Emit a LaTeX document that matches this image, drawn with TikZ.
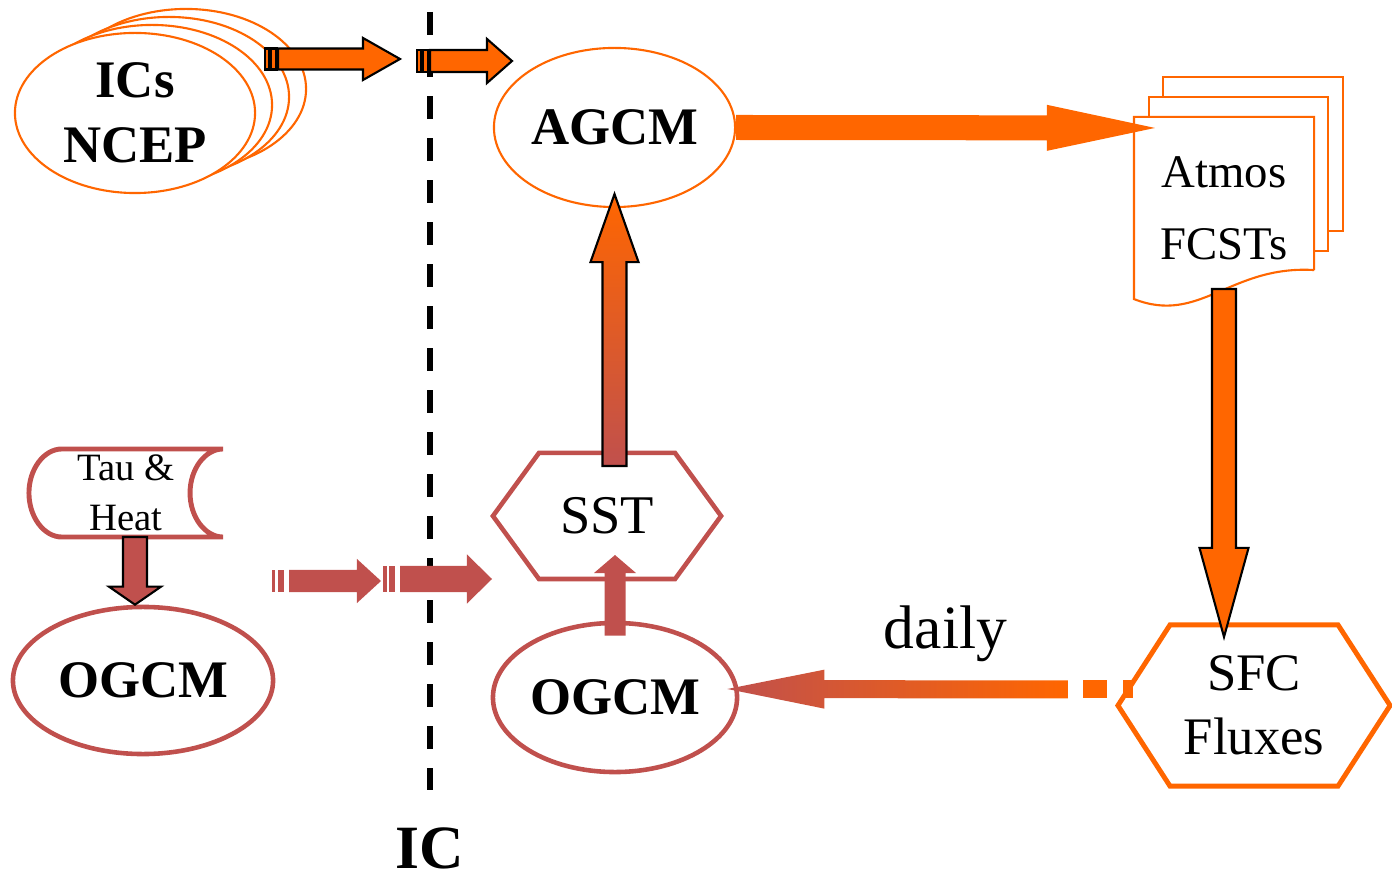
\documentclass[tikz,border=0pt]{standalone}
\usepackage{fontspec}
\setmainfont{Liberation Serif}
\usetikzlibrary{calc}
\usetikzlibrary{shapes.geometric}

\definecolor{fcorange}{HTML}{FF6600}
\definecolor{ocred}{HTML}{C0504D}

% fat arrow drawn as a polygon between two points
\tikzset{
  barw/.store in=\barw, tipw/.store in=\tipw, tipl/.store in=\tipl,
  barw=1.2mm, tipw=2.4mm, tipl=7mm,
  blockarrow/.style={to path={
    ($(\tikztostart)!\barw!90:(\tikztotarget)$)
    -- ($(\tikztotarget)!\tipl!(\tikztostart)!\barw!90:(\tikztotarget)$)
    -- ($(\tikztotarget)!\tipl!(\tikztostart)!\tipw!90:(\tikztotarget)$)
    -- (\tikztotarget)
    -- ($(\tikztotarget)!\tipl!(\tikztostart)!\tipw!-90:(\tikztotarget)$)
    -- ($(\tikztotarget)!\tipl!(\tikztostart)!\barw!-90:(\tikztotarget)$)
    -- ($(\tikztostart)!\barw!-90:(\tikztotarget)$) -- cycle
  }},
}

\newcommand{\hexframe}[3]{%
  \draw[#1] (#2.west) -- ([xshift=#3]#2.north west) -- ([xshift=-#3]#2.north east)
    -- (#2.east) -- ([xshift=-#3]#2.south east) -- ([xshift=#3]#2.south west) -- cycle;}

\begin{document}
\begin{tikzpicture}[x=0.01cm, y=-0.01cm,
  icsell/.style = {ellipse, draw=fcorange, line width=0.6pt, fill=white, inner sep=0pt,
                   minimum width=2.4cm, minimum height=1.6cm},
  agcmell/.style= {ellipse, draw=fcorange, line width=0.6pt, fill=white, inner sep=0pt},
  ogcmell/.style= {ellipse, draw=ocred, line width=1.3pt, fill=white, inner sep=0pt},
  bigbf/.style  = {font=\fontsize{15}{18.5}\selectfont\bfseries, align=center},
  frame/.style  = {rectangle, inner sep=0pt, outer sep=0pt},
  docline/.style= {draw=fcorange, line width=0.6pt, fill=white},
  redline/.style= {draw=ocred, line width=1.4pt},
  outl/.style   = {draw=black, line width=0.6pt}
]
  \useasboundingbox (0,0) rectangle (1392,877);

  % initial conditions
  \foreach \k in {3,2,1}
    \node[icsell] (ics\k) at ({135+17*\k},{113-8*\k}) {};
  \node[icsell, bigbf] (ics) at (135,113) {ICs\\NCEP};

  \coordinate (ictop) at (430,12);
  \coordinate (icbot) at (430,790);
  \draw[line width=1.6pt, dash pattern=on 0.23cm off 0.19cm] (ictop) -- (icbot);
  \node[font=\fontsize{17.5}{20}\selectfont\bfseries] (iclbl) at (430,848) {IC};

  % atmosphere
  \node[agcmell, bigbf, minimum width=2.41cm, minimum height=1.59cm] (agcm) at (614.5,127.5) {AGCM};

  \node[frame, minimum width=1.8cm, minimum height=1.53cm] (atmos) at (1224,193.5) {};
  \draw[docline] ([xshift=2.9mm,yshift=4mm]atmos.north west) rectangle ([xshift=2.9mm,yshift=3.9mm]atmos.south east);
  \draw[docline] ([xshift=1.5mm,yshift=2mm]atmos.north west) rectangle ([xshift=1.4mm,yshift=1.9mm]atmos.south east);
  \draw[docline] (atmos.south east) -- (atmos.north east) -- (atmos.north west)
    -- ([yshift=-2.9mm]atmos.south west)
    .. controls ([xshift=6.6mm,yshift=-5.5mm]atmos.south west) and ([xshift=-8.4mm,yshift=0.5mm]atmos.south east)
    .. (atmos.south east);
  \node[font=\fontsize{13.3}{20.5}\selectfont, align=center] (atmostxt) at (1224,208.5) {Atmos\\FCSTs};

  \node[frame, font=\fontsize{15}{18.2}\selectfont, align=center,
        minimum width=2.72cm, minimum height=1.61cm] (sfc) at (1254,705.5) {SFC\\Fluxes};
  \hexframe{draw=fcorange, line width=1.4pt}{sfc}{5.2mm}

  % ocean
  \node[frame, font=\fontsize{15.5}{18}\selectfont, minimum width=2.28cm, minimum height=1.26cm] (sst) at (607,516) {SST};
  \hexframe{redline, line width=1.3pt}{sst}{4.6mm}

  \node[ogcmell, bigbf, minimum width=2.44cm, minimum height=1.49cm] (ogcmM) at (615,697.5) {OGCM};
  \node[ogcmell, bigbf, minimum width=2.6cm, minimum height=1.47cm] (ogcmL) at (143,680.5) {OGCM};

  \node[frame, font=\fontsize{11}{14.2}\selectfont, align=center,
        minimum width=1.94cm, minimum height=0.88cm] (tau) at (126,493) {Tau \&\\Heat};
  \draw[redline] (tau.north east) -- ([xshift=3.3mm]tau.north west)
    .. controls ([xshift=1.5mm]tau.north west) and ([yshift=2.4mm]tau.west) .. (tau.west)
    .. controls ([yshift=-2.4mm]tau.west) and ([xshift=1.5mm]tau.south west) .. ([xshift=3.3mm]tau.south west)
    -- (tau.south east)
    .. controls ([xshift=-1.8mm]tau.south east) and ([xshift=-3.3mm,yshift=-2.4mm]tau.east) .. ([xshift=-3.3mm]tau.east)
    .. controls ([xshift=-3.3mm,yshift=2.4mm]tau.east) and ([xshift=-1.8mm]tau.north east) .. (tau.north east);

  % free arrow ends
  \coordinate (icsa) at (278,59);
  \coordinate (icsb) at (400,59);
  \coordinate (icc) at (430,61);
  \coordinate (icd) at (512,61);
  \coordinate (oca) at (289,581);
  \coordinate (ocb) at (381,581);
  \coordinate (occ) at (400,579);
  \coordinate (ocd) at (492,579);
  \coordinate (taubot) at ([xshift=0.9mm]tau.south);
  \coordinate (sstup) at (sst.north -| agcm.south);
  \coordinate (sstdn) at (sst.south -| ogcmM.north);
  \coordinate (sfcup) at (sfc.north -| atmos.south);
  \coordinate (dailyst) at ([xshift=-5mm,yshift=1.6mm]sfc.west);

  % arrows
  \foreach \c/\h in {icsa/1.05, icc/1.1} {
    \draw[outl, fill=fcorange] ([xshift=-1.3mm,yshift=-\h mm]\c) rectangle ([xshift=-0.9mm,yshift=\h mm]\c);
    \draw[outl, fill=fcorange] ([xshift=-0.7mm,yshift=-\h mm]\c) rectangle ([xshift=-0.15mm,yshift=\h mm]\c);
  }
  \draw[blockarrow, outl, fill=fcorange, barw=1.05mm, tipw=2.1mm, tipl=3.7mm] (icsa) to (icsb);
  \draw[blockarrow, outl, fill=fcorange, barw=1.1mm, tipw=2.2mm, tipl=2.5mm] (icc) to (icd);

  \foreach \c/\h in {oca/1.1, occ/1.3} {
    \fill[ocred] ([xshift=-1.65mm,yshift=-\h mm]\c) rectangle ([xshift=-1.35mm,yshift=\h mm]\c);
    \fill[ocred] ([xshift=-1.1mm,yshift=-\h mm]\c) rectangle ([xshift=-0.5mm,yshift=\h mm]\c);
  }
  \fill[blockarrow, ocred, barw=1.1mm, tipw=2.2mm, tipl=2.4mm] (oca) to (ocb);
  \fill[blockarrow, ocred, barw=1.3mm, tipw=2.45mm, tipl=2.5mm] (occ) to (ocd);

  \draw[blockarrow, outl, fill=ocred, barw=1.2mm, tipw=2.6mm, tipl=1.8mm] (taubot) to (taubot |- ogcmL.north);

  \fill[blockarrow, fcorange, barw=1.25mm, tipw=2.3mm, tipl=10.8mm]
    (agcm.east) to ([xshift=2.1mm,yshift=-1.1mm]atmos.north west);
  \draw[blockarrow, outl, fill=fcorange, barw=1.2mm, tipw=2.45mm, tipl=8.9mm]
    ([yshift=-1.9mm]atmos.south) to ([yshift=-1.2mm]sfcup);
  \draw[blockarrow, outl, top color=fcorange, bottom color=ocred, barw=1.2mm, tipw=2.4mm, tipl=6.8mm]
    ([yshift=-1.3mm]sstup) to ([yshift=1.4mm]agcm.south);
  \fill[blockarrow, ocred, barw=1.05mm, tipw=2.1mm, tipl=1.8mm]
    ([yshift=-1.5mm]ogcmM.north) to ([yshift=2.4mm]sstdn);

  \fill[fcorange] ([xshift=1.5mm,yshift=-0.9mm]dailyst) rectangle ([xshift=3.9mm,yshift=0.9mm]dailyst);
  \fill[fcorange] ([xshift=5.5mm,yshift=-0.9mm]dailyst) rectangle ([xshift=6.5mm,yshift=0.9mm]dailyst);
  \path[blockarrow, left color=ocred, right color=fcorange, barw=0.9mm, tipw=1.95mm, tipl=9.7mm]
    (dailyst) to ([xshift=-1.2mm,yshift=0.85mm]ogcmM.east);
  \node[font=\fontsize{17.5}{20}\selectfont] (dailylbl) at (945.5,633.5) {daily};
\end{tikzpicture}
\end{document}
